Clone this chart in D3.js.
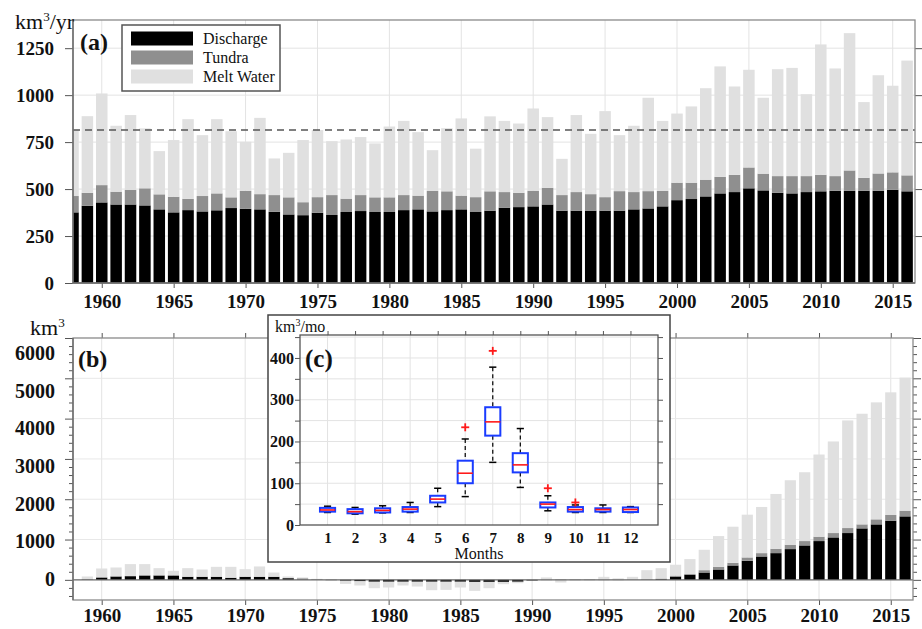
<!DOCTYPE html>
<html><head><meta charset="utf-8">
<script src="https://cdn.jsdelivr.net/npm/d3@7"></script>
<style>body{margin:0;background:#fff} svg{display:block} text{font-family:"Liberation Serif","Times New Roman",serif}</style>
</head><body><svg id="c" width="922" height="629"></svg>
<script>
// ---------- DATA ----------
const years = d3.range(1958, 2017);
const discharge = [376,411,429,418,418,413,392,376,388,381,387,399,395,392,379,365,361,374,362,378,383,378,378,388,392,381,388,392,378,385,401,404,408,418,385,385,385,385,385,392,397,408,441,447,461,477,484,504,493,480,477,484,488,491,491,491,491,496,488];
const tundra = [87,69,92,68,77,91,80,83,60,82,90,57,96,81,89,91,69,83,106,71,85,78,78,80,73,110,100,73,79,103,83,76,83,89,83,99,88,72,104,92,92,83,93,87,89,88,92,111,89,89,92,85,88,78,108,69,92,93,85];
const meltWater = [351,408,488,351,399,319,230,302,424,324,395,352,261,406,195,237,331,357,287,315,309,287,377,395,338,216,336,411,258,399,379,369,438,376,193,410,321,458,298,353,497,372,368,406,487,588,470,520,404,569,576,436,694,573,731,403,523,461,611];
const meanTotal = 815;
// cumulative anomalies (km3)
const cumDischarge = [0,10,58,83,91,108,108,108,75,75,75,50,75,75,75,41,5,0,-5,-20,-30,-45,-45,-45,-45,-45,-45,-45,-50,-50,-50,-45,-15,-5,-5,-5,-5,-5,-5,0,5,17,80,125,182,257,357,473,580,663,763,854,962,1053,1161,1277,1376,1468,1575];
const cumTundra = [0,0,5,5,5,5,5,5,5,5,5,5,5,5,5,5,35,15,-5,-10,-10,-10,-10,-10,-10,-10,-10,-10,-10,-10,-10,-10,-5,0,-5,0,0,0,0,0,7,16,25,20,58,66,66,83,83,108,108,108,108,108,124,99,125,141,141];
const cumMelt = [0,73,219,219,294,277,177,111,210,177,243,268,185,252,102,37,20,10,-15,-70,-100,-152,-135,-85,-111,-202,-194,-135,-214,-147,-48,-28,0,60,-56,-5,5,75,38,75,228,257,270,370,506,763,895,1061,1145,1360,1600,1708,2039,2272,2670,2745,2902,3043,3301];
const yearTicks = [1960,1965,1970,1975,1980,1985,1990,1995,2000,2005,2010,2015];
const yTicksA = [0,250,500,750,1000,1250];
const yTicksB = [0,1000,2000,3000,4000,5000,6000];
// monthly box plot (km3/mo)
const months = [1,2,3,4,5,6,7,8,9,10,11,12];
const boxLow  = [30,26,29,30,44,68,150,90,34,30,30,30];
const boxQ1   = [32,28,30,32,54,100,214,126,42,32,32,31];
const boxMed  = [36,32,35,38,62,124,247,144,50,37,37,37];
const boxQ3   = [41,38,40,43,70,154,282,172,54,43,40,42];
const boxHigh = [45,42,46,54,88,206,378,231,70,48,48,44];
const outliers = [[],[],[],[],[],[234],[417],[],[88],[54],[],[]];
const yTicksC = [0,100,200,300,400];

const colors = {discharge:'#000000', tundra:'#8f8f8f', melt:'#e0e0e0'};
const keys = ['discharge','tundra','melt'];
const fmt = d3.format('d');
const svg = d3.select('#c');
svg.append('rect').attr('width',922).attr('height',629).attr('fill','#fff');

function styleAxis(g, size, bold){
  g.select('.domain').remove();
  g.selectAll('line').attr('stroke','#555').attr('stroke-width',1);
  g.selectAll('text').attr('font-size',size).attr('font-weight',bold?'bold':'normal').attr('fill','#111')
    .attr('font-family','"Liberation Serif","Times New Roman",serif');
}
function supLabel(x, y, base, rest, size){
  const t = svg.append('text').attr('x',x).attr('y',y).attr('font-size',size).attr('fill','#111');
  t.append('tspan').text(base);
  t.append('tspan').text('3').attr('font-size',size*0.6).attr('dy',-size*0.38);
  if(rest) t.append('tspan').text(rest).attr('dy',size*0.38);
  return t;
}

// ---------- PANEL A ----------
const A = {l:73, r:915, t:20, b:283};
const xA = d3.scaleLinear().domain([1958, 2016.55]).range([A.l, A.r]);
const yA = d3.scaleLinear().domain([0, 1400]).range([A.b, A.t]);
const gA = svg.append('g');
svg.append('clipPath').attr('id','clipA').append('rect').attr('x',A.l).attr('y',A.t).attr('width',A.r-A.l).attr('height',A.b-A.t);
gA.selectAll('.gx').data(yearTicks).join('line').attr('x1',d=>xA(d)).attr('x2',d=>xA(d)).attr('y1',A.t).attr('y2',A.b).attr('stroke','#e3e3e3');
gA.selectAll('.gy').data(yTicksA.slice(1)).join('line').attr('y1',d=>yA(d)).attr('y2',d=>yA(d)).attr('x1',A.l).attr('x2',A.r).attr('stroke','#e3e3e3');
const rowsA = years.map((y,i)=>({year:y, discharge:discharge[i], tundra:tundra[i], melt:meltWater[i]}));
const stA = d3.stack().keys(keys)(rowsA);
const bwA = (xA(1959)-xA(1958))*0.8;
const barsA = gA.append('g').attr('clip-path','url(#clipA)');
stA.forEach(s=>{
  barsA.selectAll(null).data(s).join('rect')
    .attr('x',d=>xA(d.data.year)-bwA/2).attr('width',bwA)
    .attr('y',d=>yA(d[1])).attr('height',d=>yA(d[0])-yA(d[1]))
    .attr('fill',colors[s.key]);
});
gA.append('line').attr('x1',A.l).attr('x2',A.r).attr('y1',yA(meanTotal)).attr('y2',yA(meanTotal))
  .attr('stroke','#555').attr('stroke-width',1.5).attr('stroke-dasharray','7,5');
styleAxis(gA.append('g').attr('transform',`translate(${A.l},0)`).call(d3.axisLeft(yA).tickValues(yTicksA).tickSize(8).tickPadding(11).tickFormat(fmt)),19,true);
styleAxis(gA.append('g').attr('transform',`translate(${A.r},0)`).call(d3.axisRight(yA).tickValues(yTicksA.slice(1)).tickSize(7).tickFormat('')),19,true);
styleAxis(gA.append('g').attr('transform',`translate(0,${A.b})`).call(d3.axisBottom(xA).tickValues(yearTicks).tickSize(5).tickPadding(7).tickFormat(fmt)),19,true);
gA.append('rect').attr('x',A.l).attr('y',A.t).attr('width',A.r-A.l).attr('height',A.b-A.t).attr('fill','none').attr('stroke','#8a8a8a').attr('stroke-width',1.3);
gA.append('line').attr('x1',A.l).attr('x2',A.l).attr('y1',A.t).attr('y2',A.b).attr('stroke','#666').attr('stroke-width',1.3);
gA.append('line').attr('x1',A.l).attr('x2',A.r).attr('y1',A.b).attr('y2',A.b).attr('stroke','#666').attr('stroke-width',1.3);
const lg = svg.append('g');
lg.append('rect').attr('x',122).attr('y',25).attr('width',158).attr('height',66).attr('fill','#fff').attr('stroke','#555').attr('stroke-width',1.5);
const legItems = [['Discharge','discharge'],['Tundra','tundra'],['Melt Water','melt']];
legItems.forEach((it,i)=>{
  lg.append('rect').attr('x',131).attr('y',31.5+i*19).attr('width',62).attr('height',14).attr('fill',colors[it[1]]);
  lg.append('text').attr('x',203).attr('y',43.5+i*19).attr('font-size',16).attr('fill','#111').text(it[0]);
});
svg.append('text').attr('x',80).attr('y',50).attr('font-size',24).attr('font-weight','bold').attr('fill','#111').text('(a)');
supLabel(15, 29, 'km', '/yr', 22);

// ---------- PANEL B ----------
const B = {l:73, r:913, t:338, b:600};
const xB = d3.scaleLinear().domain([1958, 2016.55]).range([B.l, B.r]);
const yB = d3.scaleLinear().domain([-500, 6000]).range([B.b, B.t]);
const yBLabel = d3.scaleLinear().domain([0, 6000]).range([579, 353]);
const gB = svg.append('g');
svg.append('clipPath').attr('id','clipB').append('rect').attr('x',B.l).attr('y',B.t).attr('width',B.r-B.l).attr('height',B.b-B.t);
gB.selectAll('.gx').data(yearTicks).join('line').attr('x1',d=>xB(d)).attr('x2',d=>xB(d)).attr('y1',B.t).attr('y2',B.b).attr('stroke','#e3e3e3');
gB.selectAll('.gy').data(yTicksB.slice(1,-1)).join('line').attr('y1',d=>yB(d)).attr('y2',d=>yB(d)).attr('x1',B.l).attr('x2',B.r).attr('stroke','#e8e8e8');
const rowsB = years.map((y,i)=>({year:y, discharge:cumDischarge[i], tundra:cumTundra[i], melt:cumMelt[i]}));
const stB = d3.stack().keys(keys).offset(d3.stackOffsetDiverging)(rowsB);
const bwB = (xB(1959)-xB(1958))*0.78;
const barsB = gB.append('g').attr('clip-path','url(#clipB)');
stB.forEach(s=>{
  barsB.selectAll(null).data(s).join('rect')
    .attr('x',d=>xB(d.data.year)-bwB/2).attr('width',bwB)
    .attr('y',d=>yB(Math.max(d[0],d[1]))).attr('height',d=>Math.abs(yB(d[0])-yB(d[1])))
    .attr('fill',colors[s.key]);
});
gB.append('line').attr('x1',B.l).attr('x2',B.r).attr('y1',yB(0)).attr('y2',yB(0)).attr('stroke','#666').attr('stroke-width',1.2);
const minorB = d3.range(-400, 6001, 200).filter(v=>v%1000!==0);
styleAxis(gB.append('g').attr('transform',`translate(${B.l},0)`).call(d3.axisLeft(yB).tickValues(yTicksB).tickSize(8).tickFormat('')),20,true);
styleAxis(gB.append('g').attr('transform',`translate(${B.l},0)`).call(d3.axisLeft(yB).tickValues(minorB).tickSize(4).tickFormat('')),20,true);
styleAxis(gB.append('g').attr('transform',`translate(${B.r},0)`).call(d3.axisRight(yB).tickValues(yTicksB).tickSize(8).tickFormat('')),20,true);
styleAxis(gB.append('g').attr('transform',`translate(${B.r},0)`).call(d3.axisRight(yB).tickValues(minorB).tickSize(4).tickFormat('')),20,true);
gB.selectAll('.yl').data(yTicksB).join('text').attr('x',55).attr('y',d=>yBLabel(d)).attr('dy','0.35em')
  .attr('text-anchor','end').attr('font-size',20).attr('font-weight','bold').attr('fill','#111').text(d=>d);
styleAxis(gB.append('g').attr('transform',`translate(0,${B.b})`).call(d3.axisBottom(xB).tickValues(yearTicks).tickSize(5).tickPadding(4).tickFormat(fmt)),19,true);
styleAxis(gB.append('g').attr('transform',`translate(0,${B.t})`).call(d3.axisTop(xB).tickValues(yearTicks).tickSize(5).tickFormat('')),20,true);
gB.append('rect').attr('x',B.l).attr('y',B.t).attr('width',B.r-B.l).attr('height',B.b-B.t).attr('fill','none').attr('stroke','#8a8a8a').attr('stroke-width',1.3);
gB.append('line').attr('x1',B.l).attr('x2',B.l).attr('y1',B.t).attr('y2',B.b).attr('stroke','#666').attr('stroke-width',1.3);
svg.append('text').attr('x',78).attr('y',367).attr('font-size',24).attr('font-weight','bold').attr('fill','#111').text('(b)');
supLabel(30, 335, 'km', '', 22);

// ---------- INSET C ----------
const gC = svg.append('g');
gC.append('rect').attr('x',268).attr('y',315).attr('width',402).attr('height',247).attr('fill','#fff').attr('stroke','#444').attr('stroke-width',1.5);
const C = {l:300, r:658, t:335, b:525};
const xC = d3.scaleLinear().domain([0, 13]).range([C.l, C.r]);
const yC = d3.scaleLinear().domain([0, 455]).range([C.b, C.t]);
const gridC = d3.range(50, 451, 50);
gC.selectAll('.gx').data(months).join('line').attr('x1',d=>xC(d)).attr('x2',d=>xC(d)).attr('y1',C.t).attr('y2',C.b).attr('stroke','#e3e3e3');
gC.selectAll('.gy').data(gridC).join('line').attr('y1',d=>yC(d)).attr('y2',d=>yC(d)).attr('x1',C.l).attr('x2',C.r).attr('stroke','#e3e3e3');
const ticksC = d3.range(0, 451, 50);
styleAxis(gC.append('g').attr('transform',`translate(${C.l},0)`).call(d3.axisLeft(yC).tickValues(ticksC).tickSize(5).tickPadding(1).tickFormat(d=>yTicksC.includes(d)?d:'')),16,true);
styleAxis(gC.append('g').attr('transform',`translate(${C.r},0)`).call(d3.axisRight(yC).tickValues(ticksC.slice(1)).tickSize(5).tickFormat('')),16,true);
styleAxis(gC.append('g').attr('transform',`translate(0,${C.b})`).call(d3.axisBottom(xC).tickValues(months).tickSize(0).tickPadding(7).tickFormat(fmt)),15,true);
styleAxis(gC.append('g').attr('transform',`translate(0,${C.t})`).call(d3.axisTop(xC).tickValues(months).tickSize(4).tickFormat('')),16,true);
gC.append('rect').attr('x',C.l).attr('y',C.t).attr('width',C.r-C.l).attr('height',C.b-C.t).attr('fill','none').attr('stroke','#555').attr('stroke-width',1.3);
const boxW = (xC(1)-xC(0))*0.55, capW = (xC(1)-xC(0))*0.26;
months.forEach((m,i)=>{
  const cx = xC(m);
  gC.append('line').attr('x1',cx).attr('x2',cx).attr('y1',yC(boxHigh[i])).attr('y2',yC(boxQ3[i])).attr('stroke','#000').attr('stroke-width',1.2).attr('stroke-dasharray','4,3');
  gC.append('line').attr('x1',cx).attr('x2',cx).attr('y1',yC(boxQ1[i])).attr('y2',yC(boxLow[i])).attr('stroke','#000').attr('stroke-width',1.2).attr('stroke-dasharray','4,3');
  [boxHigh[i], boxLow[i]].forEach(v=>gC.append('line').attr('x1',cx-capW/2).attr('x2',cx+capW/2).attr('y1',yC(v)).attr('y2',yC(v)).attr('stroke','#000').attr('stroke-width',1.5));
  gC.append('rect').attr('x',cx-boxW/2).attr('width',boxW).attr('y',yC(boxQ3[i])).attr('height',yC(boxQ1[i])-yC(boxQ3[i]))
    .attr('fill','#fff').attr('stroke','#1a3cff').attr('stroke-width',2);
  gC.append('line').attr('x1',cx-boxW/2).attr('x2',cx+boxW/2).attr('y1',yC(boxMed[i])).attr('y2',yC(boxMed[i])).attr('stroke','#ff1a1a').attr('stroke-width',1.6);
  outliers[i].forEach(v=>{
    const oy = yC(v);
    gC.append('line').attr('x1',cx-4).attr('x2',cx+4).attr('y1',oy).attr('y2',oy).attr('stroke','#ff1a1a').attr('stroke-width',1.8);
    gC.append('line').attr('x1',cx).attr('x2',cx).attr('y1',oy-4).attr('y2',oy+4).attr('stroke','#ff1a1a').attr('stroke-width',1.8);
  });
});
gC.append('text').attr('x',(C.l+C.r)/2).attr('y',559).attr('text-anchor','middle').attr('font-size',16).attr('fill','#111').text('Months');
gC.append('text').attr('x',305).attr('y',367).attr('font-size',25).attr('font-weight','bold').attr('fill','#111').text('(c)');
(function(){
  const t = gC.append('text').attr('x',275).attr('y',332).attr('font-size',16).attr('fill','#111');
  t.append('tspan').text('km');
  t.append('tspan').text('3').attr('font-size',10).attr('dy',-6);
  t.append('tspan').text('/mo').attr('dy',6);
})();
</script></body></html>
